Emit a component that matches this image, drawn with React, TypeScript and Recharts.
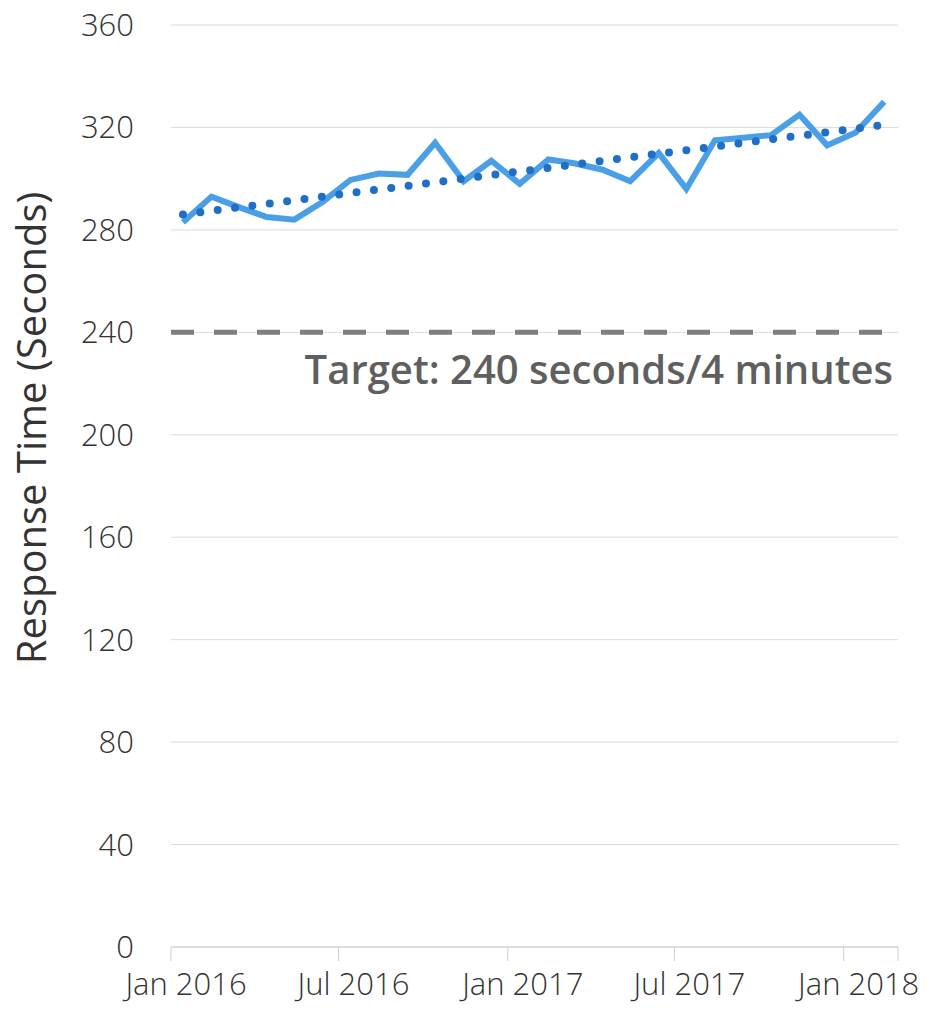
import { LineChart, Line, XAxis, YAxis, CartesianGrid, ReferenceLine } from 'recharts';

// monthly readings, Jan 2016 .. Feb 2018
const months = [
  '2016-01', '2016-02', '2016-03', '2016-04', '2016-05', '2016-06',
  '2016-07', '2016-08', '2016-09', '2016-10', '2016-11', '2016-12',
  '2017-01', '2017-02', '2017-03', '2017-04', '2017-05', '2017-06',
  '2017-07', '2017-08', '2017-09', '2017-10', '2017-11', '2017-12',
  '2018-01', '2018-02',
];
const responseTimes = [
  283, 293, 289, 285, 284, 291, 299.5, 302, 301.5, 314, 299, 307, 298,
  307.5, 306, 303.5, 299, 310, 296, 315, 316, 317, 325, 313, 318, 330,
];
// trend line read at its two ends
const trendStart = 286;
const trendEnd = 321;

const yTicks = [0, 40, 80, 120, 160, 200, 240, 280, 320, 360];
const xTickDates = ['2016-01-01', '2016-07-01', '2017-01-01', '2017-07-01', '2018-01-01', '2018-03-01'];
const xTickLabels = ['Jan 2016', 'Jul 2016', 'Jan 2017', 'Jul 2017', 'Jan 2018', ''];
const target = 240;
const targetLabel = 'Target: 240 seconds/4 minutes';
const yLabel = 'Response Time (Seconds)';

const FONT = "'Open Sans', 'Noto Sans', sans-serif";

const toTime = (s: string) => new Date(s + 'T00:00:00Z').getTime();
const midMonth = (m: string) => toTime(m + '-14');

const data = months.map((m, i) => ({ t: midMonth(m), value: responseTimes[i] }));
const trendData = [
  { t: midMonth(months[0]), trend: trendStart },
  { t: midMonth(months[months.length - 1]), trend: trendEnd },
];
const xTicks = xTickDates.map(toTime);

function XTick(props: any) {
  const { x, y, payload } = props;
  const idx = xTicks.indexOf(payload.value);
  const label = idx >= 0 ? xTickLabels[idx] : '';
  if (!label) return null;
  return (
    <text x={x + 15} y={y + 34} textAnchor="middle" fontSize={31} fontWeight={300}
      fill="#333" fontFamily={FONT}>
      {label}
    </text>
  );
}

function TargetLabel(props: any) {
  const { viewBox } = props;
  return (
    <text x={viewBox.x + viewBox.width - 5} y={viewBox.y + 52} textAnchor="end"
      fontSize={40} fontWeight={600} fill="#5f5f5f" fontFamily={FONT}>
      {targetLabel}
    </text>
  );
}

function YLabel() {
  const x = 46;
  const y = 428;
  return (
    <text x={x} y={y} transform={`rotate(-90, ${x}, ${y})`} textAnchor="middle"
      fontSize={40} fill="#333" fontFamily={FONT}>
      {yLabel}
    </text>
  );
}

export default function App() {
  return (
    <div style={{ position: 'absolute', left: 0, top: 0, width: 928, height: 1019, background: '#fff' }}>
      <LineChart width={928} height={1019} data={data}
        margin={{ top: 25, right: 30, bottom: 0, left: 0 }}>
        <CartesianGrid vertical={false} stroke="#dcdcdc" strokeWidth={1} />
        <XAxis dataKey="t" type="number" scale="time" domain={[xTicks[0], xTicks[xTicks.length - 1]]}
          ticks={xTicks} interval={0} height={72} tickSize={14} tickMargin={0}
          stroke="#cfcfcf" tick={<XTick />} />
        <YAxis domain={[0, 360]} ticks={yTicks} width={171} axisLine={false} tickLine={false}
          tickMargin={31} tick={{ fontSize: 31, fontWeight: 300, fill: '#333', fontFamily: FONT }}
          label={<YLabel />} />
        <ReferenceLine y={target} stroke="#7f7f7f" strokeWidth={5} strokeDasharray="23 20"
          label={<TargetLabel />} />
        <Line dataKey="value" type="linear" stroke="#4a9fe6" strokeWidth={6} dot={false}
          strokeLinejoin="miter" isAnimationActive={false} />
        <Line data={trendData} dataKey="trend" type="linear" stroke="#1f6fc6" strokeWidth={8}
          strokeDasharray="0 17.5" strokeLinecap="round" dot={false} isAnimationActive={false} />
      </LineChart>
    </div>
  );
}
